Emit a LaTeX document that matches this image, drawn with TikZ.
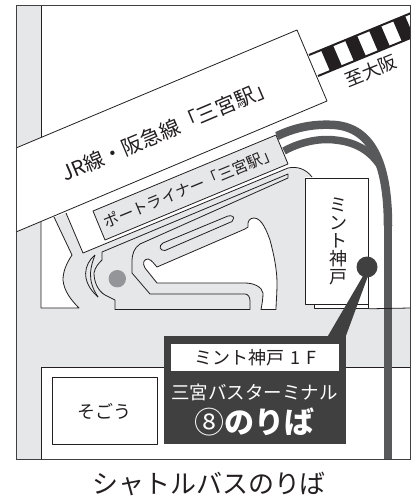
\documentclass[tikz,border=0pt]{standalone}
\usepackage{fontspec}
\setmainfont{Noto Sans CJK JP}
\definecolor{roadgrey}{HTML}{E6E7E8}
\definecolor{inkline}{HTML}{231F20}
\definecolor{busline}{HTML}{58595B}
\definecolor{darkbox}{HTML}{404041}
\definecolor{dotgrey}{HTML}{939598}
\tikzset{
  mapline/.style={draw=inkline,line width=0.8pt,line join=round},
  whitearea/.style={fill=white},
  busroute/.style={draw=busline,line cap=butt,line join=round},
  lab/.style={inner sep=0pt,text=inkline},
  darklab/.style={inner sep=0pt,text=white},
}
\newcommand{\fs}[1]{\fontsize{#1}{#1}\selectfont}
\begin{document}
\begin{tikzpicture}[x=1pt,y=-1pt]
\useasboundingbox (0,0) rectangle (418,501);
% ground
\fill[roadgrey] (16,5.5) rectangle (410,459);
% upper white area
\fill[whitearea] (41,5.5) -- (410,5.5) -- (410,308) -- (314,308) -- (314,304) -- (305,304) -- (305,177) -- (312,177)
  .. controls (306,169) and (297,166) .. (288,168) -- (83,253) -- (66,213) -- (41,222) -- cycle;
% lower-left white block
\fill[whitearea] (41,222) -- (54,217) -- (72,255) .. controls (66,264) and (63,272) .. (63,280)
  .. controls (64,291) and (71,300) .. (79,308) -- (41,308) -- cycle;
\draw[mapline] (41,222) -- (41,308) -- (79,308) .. controls (71,300) and (64,291) .. (63,280)
  .. controls (63,272) and (66,264) .. (72,255) -- (54,217);
% lower white block
\fill[whitearea] (41,367) rectangle (410,459);
\draw[mapline] (41,459) -- (41,367) -- (410,367);
\draw[mapline] (41,5.5) -- (41,140);
% inner white shape
\fill[whitearea] (157,267) -- (245,229) -- (248,227) .. controls (247,221) and (250,218) .. (254,218)
  .. controls (262,218) and (267,232) .. (270,240) .. controls (274,255) and (277,270) .. (277,283)
  .. controls (277,295) and (276,303) .. (276,309.5) -- (261,309.5) .. controls (262,304) and (263,299) .. (263,293)
  .. controls (262,287) and (254,283) .. (245,283) -- (157,283) -- (145,268)
  .. controls (142,263) and (144,259) .. (148,259) .. controls (152,260) and (154,264) .. (157,267) -- cycle;
\draw[mapline] (157,267) -- (245,229) -- (248,227) .. controls (247,221) and (250,218) .. (254,218)
  .. controls (262,218) and (267,232) .. (270,240) .. controls (274,255) and (277,270) .. (277,283)
  .. controls (277,295) and (276,303) .. (276,309.5) -- (261,309.5) .. controls (262,304) and (263,299) .. (263,293)
  .. controls (262,287) and (254,283) .. (245,283) -- (157,283) -- (145,268)
  .. controls (142,263) and (144,259) .. (148,259) .. controls (152,260) and (154,264) .. (157,267) -- cycle;
% platform outline with tip
\draw[mapline] (102,252) -- (288,174) -- (288,178) -- (140,244) .. controls (134,248) and (132,254) .. (132,262)
  -- (132,273) -- (150,294) -- (245,294) .. controls (248,294) and (250,297) .. (250,301) -- (250,309.5) -- (115,309.5)
  -- (115,300) -- (105,295) .. controls (98,291) and (94,282) .. (94,273) .. controls (95,267) and (99,263) .. (102,260) -- cycle;
% small capsule
\draw[mapline] (163,243) -- (228,216) .. controls (232,215) and (235,217) .. (233,219.5) -- (232,221.5) -- (165,250.5)
  .. controls (160,251) and (158,246) .. (163,243) -- cycle;
% crescents
\draw[mapline] (95,255) .. controls (84,264) and (80,281) .. (98,297);
\draw[mapline] (95,255) .. controls (91,266) and (86,279) .. (98,297);
% stop dot
\fill[dotgrey] (117.3,278.7) circle [radius=8.7];
% bus routes (under the band)
\draw[busroute,line width=7.5pt] (388,225) -- (388,459);
\draw[busroute,line width=8.5pt] (277,136) .. controls (300,125) and (320,124) .. (335,125)
  .. controls (370,128) and (388,160) .. (388,226);
\draw[busroute,line width=7.5pt] (284,151) .. controls (300,142) and (320,138) .. (335,140)
  .. controls (355,142) and (370,150) .. (381,167);
% railway
\begin{scope}
\clip (16,5.5) rectangle (410,459);
\fill[whitearea] (309,55) -- (421,9) -- (430,30) -- (318,76) -- cycle;
\foreach \i in {1,3,5,7} {
  \fill[inkline] ({309+12*\i},{55-4.9*\i}) -- ({321+12*\i},{50.1-4.9*\i}) -- ({330+12*\i},{71.1-4.9*\i}) -- ({318+12*\i},{76-4.9*\i}) -- cycle;
}
\draw[inkline,line width=2pt] (309,55) -- (421,9);
\draw[inkline,line width=2pt] (318,76) -- (430,30);
\end{scope}
% JR band
\fill[whitearea] (16,148) -- (297,30) -- (327,101) -- (16,232) -- cycle;
\draw[mapline] (16,148) -- (297,30) -- (327,101) -- (16,232);
% stripe line and outer arc
\draw[mapline] (312,177) .. controls (306,169) and (297,166) .. (288,168) -- (83,253) -- (66,213);
% port liner band
\draw[mapline,fill=roadgrey] (93,211) -- (276,135) -- (288,164) -- (105,240) -- cycle;
% Mint
\node[mapline,fill=white,inner sep=0pt,anchor=north west,minimum width=54pt,minimum height=8pt] (annex) at (314,300) {};
\draw[mapline] (annex.south east) -- (410,308);
\node[mapline,fill=white,anchor=north west,inner sep=0pt,minimum width=63pt,minimum height=126pt] (mint) at (305,178) {};
\node[lab,align=center,font=\fs{18}] (minttext) at (338,241)
  {ミ\\ン\\ト\\神\\戸};
% Sogo
\node[mapline,fill=white,anchor=north west,inner sep=0pt,minimum width=105pt,minimum height=67pt] (sogo) at (52,377) {};
\node[lab,font=\fs{18}] (sogotext) at (sogo.center) {そごう};
% callout
\node[fill=darkbox,anchor=north west,inner sep=0pt,minimum width=182pt,minimum height=108pt] (callout) at (163.5,336) {};
\node[fill=darkbox,circle,inner sep=0pt,minimum size=21pt] (dot) at (367,267) {};
\fill[darkbox] (dot.center) ++(-4,9) -- ++(5,0) -- (callout.north east) -- ++(-18,0) -- cycle;
\node[fill=white,anchor=north west,inner sep=0pt,minimum width=168pt,minimum height=26.7pt] (floor) at (171,344) {};
\node[lab,font=\fs{18}] (floortext) at (floor.center) {ミント神戸\hspace{6pt}1\hspace{6pt}F};
\node[darklab,font=\fs{18.5}] (term) at (254.5,392) {三宮バスターミナル};
\node[darklab,font=\fs{30}] (gate) at (254.5,422) {⑧{\bfseries のりば}};
% route labels
\node[lab,font=\fs{20.5},rotate=23] (jr) at (168,130) {JR線・阪急線「三宮駅」};
\node[lab,font=\fs{15.5},rotate=22.5] (pl) at (190.5,187.5) {ポートライナー「三宮駅」};
\node[lab,font=\fs{18},rotate=22] (osaka) at (371,71) {至大阪};
\node[lab,font=\fs{26}] (title) at (209,484) {シャトルバスのりば};
% frame
\draw[draw=darkbox,line width=1pt] (16,5.5) rectangle (410,459);
\end{tikzpicture}
\end{document}
